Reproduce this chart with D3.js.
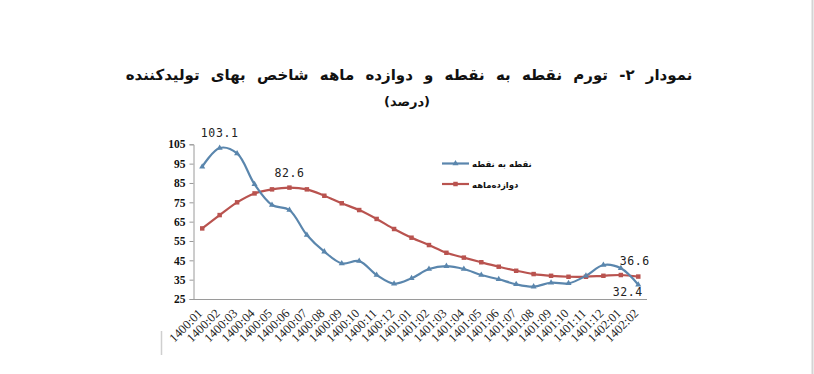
<!DOCTYPE html>
<html>
<head>
<meta charset="utf-8">
<script src="https://cdn.jsdelivr.net/npm/d3@7/dist/d3.min.js"></script>
<style>
  html, body { margin: 0; padding: 0; background: #fff; }
  svg { display: block; }
</style>
</head>
<body>
<div id="chart"></div>
<script>
// categories (Persian year:month)
const months = [
  '1400:01', '1400:02', '1400:03', '1400:04', '1400:05', '1400:06', '1400:07',
  '1400:08', '1400:09', '1400:10', '1400:11', '1400:12', '1401:01', '1401:02',
  '1401:03', '1401:04', '1401:05', '1401:06', '1401:07', '1401:08', '1401:09',
  '1401:10', '1401:11', '1401:12', '1402:01', '1402:02'
]

// point-to-point inflation
const pointValues = [
  93.4, 103.1, 100.3, 84.3, 73.6, 71.0, 58.1, 49.5, 43.4, 44.6, 37.4, 32.9, 35.7,
  40.5, 42.0, 40.5, 37.4, 35.2, 32.6, 31.4, 33.4, 33.1, 37.0, 42.6, 40.9, 32.4
]

// twelve-month inflation
const annualValues = [
  61.5, 68.4, 75.0, 79.6, 81.7, 82.6, 81.7, 78.4, 74.5, 71.0, 66.4, 61.2, 56.7,
  52.9, 48.9, 46.4, 44.0, 41.7, 39.6, 37.9, 37.0, 36.5, 36.5, 37.0, 37.4, 36.6
]

const yTicks = [25, 35, 45, 55, 65, 75, 85, 95, 105]

const seriesNames = ['نقطه به نقطه', 'دوازده‌ماهه']
const titleText = 'نمودار ۲- تورم نقطه به نقطه و دوازده ماهه شاخص بهای تولیدکننده'
const subtitleText = '(درصد)'

const width = 814
const height = 374

const blue = '#5a86ad'
const red = '#b9534f'

const svg = d3.select('#chart')
  .append('svg')
  .attr('width', width)
  .attr('height', height)

// right edge border of the scan
svg.append('line')
  .attr('x1', 812.5).attr('x2', 812.5)
  .attr('y1', 0).attr('y2', height)
  .attr('stroke', '#d4d4d4')
  .attr('stroke-width', 2)

// small stray mark lower left
svg.append('line')
  .attr('x1', 161.5).attr('x2', 161.5)
  .attr('y1', 331).attr('y2', 355)
  .attr('stroke', '#cfcfcf')
  .attr('stroke-width', 1.5)

// titles
svg.append('text')
  .attr('x', 409)
  .attr('y', 80)
  .attr('text-anchor', 'middle')
  .attr('font-family', 'DejaVu Sans')
  .attr('font-weight', 'bold')
  .attr('font-size', 15)
  .attr('word-spacing', 6)
  .attr('fill', '#111')
  .text(titleText)

svg.append('text')
  .attr('x', 407)
  .attr('y', 106)
  .attr('text-anchor', 'middle')
  .attr('font-family', 'DejaVu Sans')
  .attr('font-weight', 'bold')
  .attr('font-size', 13)
  .attr('fill', '#111')
  .text(subtitleText)

// scales
const x = d3.scalePoint()
  .domain(months)
  .range([193.5, 647])
  .padding(0.5)

const y = d3.scaleLinear()
  .domain([25, 105])
  .range([299, 144.3])

// y axis
const yAxis = svg.append('g')
  .attr('transform', 'translate(193.5,0)')
  .call(d3.axisLeft(y).tickValues(yTicks).tickSize(4).tickPadding(4))

yAxis.select('.domain').attr('stroke', '#9a9a9a')
yAxis.selectAll('.tick line').attr('stroke', '#9a9a9a')
yAxis.selectAll('.tick text')
  .attr('font-family', 'Liberation Serif')
  .attr('font-weight', 'bold')
  .attr('font-size', 11.5)
  .attr('fill', '#111')

// x axis: line only, labels drawn below
const xAxis = svg.append('g')
  .attr('transform', 'translate(0,299)')
  .call(d3.axisBottom(x).tickSize(0).tickFormat(''))

xAxis.select('.domain').attr('stroke', '#9a9a9a').attr('d', 'M193.5,0.5H647')

svg.append('g')
  .selectAll('text')
  .data(months)
  .enter()
  .append('text')
  .attr('transform', (d) => `translate(${x(d) + 1},314) rotate(-45)`)
  .attr('text-anchor', 'end')
  .attr('font-family', 'Liberation Serif')
  .attr('font-size', 12.5)
  .attr('fill', '#222')
  .text((d) => d)

// lines
const line = d3.line()
  .x((d, i) => x(months[i]))
  .y((d) => y(d))
  .curve(d3.curveCatmullRom.alpha(0.5))

svg.append('path')
  .datum(annualValues)
  .attr('fill', 'none')
  .attr('stroke', red)
  .attr('stroke-width', 2.2)
  .attr('d', line)

svg.append('path')
  .datum(pointValues)
  .attr('fill', 'none')
  .attr('stroke', blue)
  .attr('stroke-width', 2.2)
  .attr('d', line)

// markers
const tri = d3.symbol().type(d3.symbolTriangle).size(16)
const sq = d3.symbol().type(d3.symbolSquare).size(20)

svg.append('g')
  .selectAll('path')
  .data(annualValues)
  .enter()
  .append('path')
  .attr('d', sq)
  .attr('transform', (d, i) => `translate(${x(months[i])},${y(d)})`)
  .attr('fill', red)

svg.append('g')
  .selectAll('path')
  .data(pointValues)
  .enter()
  .append('path')
  .attr('d', tri)
  .attr('transform', (d, i) => `translate(${x(months[i])},${y(d)})`)
  .attr('fill', blue)

// data labels
const labels = [
  { series: pointValues, i: 1, dx: 0, dy: -11 },
  { series: annualValues, i: 5, dx: 0, dy: -10.5 },
  { series: annualValues, i: 25, dx: -3.5, dy: -11.5 },
  { series: pointValues, i: 25, dx: -10.5, dy: 11.5 }
]

svg.append('g')
  .selectAll('text')
  .data(labels)
  .enter()
  .append('text')
  .attr('x', (d) => x(months[d.i]) + d.dx)
  .attr('y', (d) => y(d.series[d.i]) + d.dy)
  .attr('text-anchor', 'middle')
  .attr('font-family', 'DejaVu Sans Mono')
  .attr('font-size', 11.5)
  .attr('letter-spacing', 0.6)
  .attr('fill', '#222')
  .text((d) => d.series[d.i].toFixed(1))

// legend
const legend = svg.append('g')
const legendColors = [blue, red]
const legendSymbols = [tri, sq]

seriesNames.forEach((name, k) => {
  const ly = 163.5 + k * 20.5
  legend.append('line')
    .attr('x1', 442).attr('x2', 469)
    .attr('y1', ly).attr('y2', ly)
    .attr('stroke', legendColors[k])
    .attr('stroke-width', 2.2)
  legend.append('path')
    .attr('d', legendSymbols[k])
    .attr('transform', `translate(455.5,${ly})`)
    .attr('fill', legendColors[k])
  legend.append('text')
    .attr('x', 472)
    .attr('y', ly + 3.5)
    .attr('font-family', 'DejaVu Sans')
    .attr('font-weight', 'bold')
    .attr('font-size', 8.5)
    .attr('fill', '#111')
    .text(name)
})
</script>
</body>
</html>
